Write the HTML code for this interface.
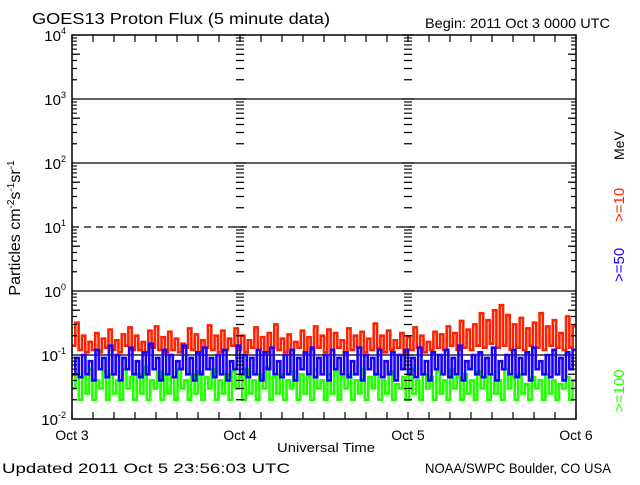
<!DOCTYPE html>
<html><head><meta charset="utf-8"><style>
body{margin:0;background:#fff;width:640px;height:480px;overflow:hidden;font-family:"Liberation Sans",sans-serif}
svg text{font-family:"Liberation Sans",sans-serif}
</style></head><body>
<svg id="chart" width="640" height="480" viewBox="0 0 640 480" xmlns="http://www.w3.org/2000/svg">
<text x="32" y="24" font-size="16" textLength="298" lengthAdjust="spacingAndGlyphs">GOES13 Proton Flux (5 minute data)</text>
<text x="425" y="28" font-size="14" textLength="185" lengthAdjust="spacingAndGlyphs">Begin: 2011 Oct 3 0000 UTC</text>
<text x="2" y="473" font-size="14" textLength="288" lengthAdjust="spacingAndGlyphs">Updated 2011 Oct  5 23:56:03 UTC</text>
<text x="425" y="473" font-size="14" textLength="186" lengthAdjust="spacingAndGlyphs">NOAA/SWPC Boulder, CO USA</text>
<text x="277" y="452" font-size="13" textLength="98" lengthAdjust="spacingAndGlyphs">Universal Time</text>
<text transform="translate(20,228) rotate(-90)" font-size="16" text-anchor="middle">Particles cm<tspan dy="-6" font-size="10">-2</tspan><tspan dy="6">s</tspan><tspan dy="-6" font-size="10">-1</tspan><tspan dy="6">sr</tspan><tspan dy="-6" font-size="10">-1</tspan></text>
<text transform="translate(624,160) rotate(-90)" font-size="14">MeV</text>
<text transform="translate(624,222) rotate(-90)" font-size="15" fill="#ff2200">&gt;=10</text>
<text transform="translate(624,282) rotate(-90)" font-size="15" fill="#1a00ff">&gt;=50</text>
<text transform="translate(624,412) rotate(-90)" font-size="15" fill="#22ff00">&gt;=100</text>
<g id="grid"></g><g id="series"></g><g id="axes"></g>
</svg>
<script>
const dayLabels=["Oct 3","Oct 4","Oct 5","Oct 6"];
const decadeExps=[-2,-1,0,1,2,3,4];
const red=[0.14,0.32,0.12,0.2,0.11,0.16,0.12,0.22,0.11,0.18,0.13,0.25,0.12,0.17,0.11,0.21,0.14,0.27,0.12,0.2,0.12,0.16,0.11,0.24,0.13,0.28,0.12,0.19,0.11,0.23,0.12,0.18,0.11,0.15,0.13,0.26,0.12,0.21,0.11,0.17,0.13,0.29,0.12,0.2,0.11,0.24,0.12,0.18,0.14,0.26,0.12,0.2,0.11,0.17,0.13,0.27,0.12,0.19,0.11,0.22,0.13,0.3,0.12,0.18,0.11,0.21,0.12,0.16,0.13,0.24,0.11,0.19,0.12,0.28,0.13,0.2,0.11,0.25,0.12,0.22,0.13,0.17,0.11,0.26,0.12,0.2,0.13,0.23,0.11,0.18,0.12,0.31,0.13,0.2,0.11,0.24,0.12,0.17,0.13,0.22,0.11,0.19,0.12,0.27,0.13,0.2,0.11,0.16,0.12,0.23,0.13,0.21,0.12,0.28,0.14,0.22,0.12,0.34,0.13,0.25,0.12,0.3,0.14,0.45,0.13,0.35,0.15,0.5,0.13,0.6,0.14,0.42,0.12,0.3,0.13,0.38,0.12,0.26,0.14,0.32,0.13,0.45,0.12,0.28,0.14,0.35,0.13,0.22,0.12,0.4,0.13,0.28];
const blue=[0.05,0.09,0.045,0.1,0.05,0.08,0.04,0.12,0.06,0.09,0.045,0.14,0.05,0.1,0.04,0.09,0.06,0.13,0.05,0.08,0.045,0.11,0.05,0.15,0.06,0.09,0.04,0.12,0.05,0.1,0.045,0.08,0.06,0.14,0.05,0.09,0.04,0.11,0.05,0.13,0.06,0.09,0.045,0.1,0.05,0.12,0.04,0.08,0.06,0.14,0.05,0.1,0.045,0.09,0.05,0.12,0.04,0.11,0.06,0.13,0.05,0.08,0.045,0.1,0.05,0.12,0.04,0.09,0.06,0.11,0.05,0.13,0.045,0.09,0.05,0.1,0.04,0.12,0.06,0.09,0.05,0.11,0.045,0.08,0.05,0.13,0.04,0.1,0.06,0.09,0.05,0.12,0.045,0.08,0.05,0.11,0.04,0.1,0.06,0.12,0.05,0.09,0.045,0.13,0.05,0.08,0.04,0.11,0.06,0.1,0.05,0.12,0.045,0.09,0.05,0.14,0.04,0.08,0.06,0.1,0.05,0.11,0.045,0.09,0.05,0.13,0.04,0.08,0.06,0.1,0.05,0.12,0.045,0.09,0.05,0.11,0.04,0.13,0.06,0.08,0.05,0.1,0.045,0.12,0.05,0.09,0.04,0.11,0.06,0.12];
const green=[0.03,0.05,0.02,0.045,0.025,0.06,0.02,0.04,0.03,0.055,0.02,0.05,0.025,0.04,0.02,0.06,0.03,0.045,0.02,0.05,0.025,0.065,0.02,0.04,0.03,0.055,0.02,0.05,0.025,0.045,0.02,0.06,0.03,0.04,0.02,0.05,0.025,0.055,0.02,0.045,0.03,0.06,0.02,0.04,0.025,0.05,0.02,0.055,0.03,0.045,0.02,0.06,0.025,0.04,0.02,0.05,0.03,0.065,0.02,0.045,0.025,0.05,0.02,0.04,0.03,0.055,0.02,0.05,0.025,0.045,0.02,0.06,0.03,0.04,0.02,0.05,0.025,0.055,0.02,0.045,0.03,0.05,0.02,0.04,0.025,0.06,0.02,0.045,0.03,0.05,0.02,0.04,0.025,0.055,0.02,0.035,0.03,0.045,0.02,0.06,0.025,0.04,0.02,0.05,0.03,0.045,0.02,0.055,0.025,0.04,0.02,0.06,0.03,0.045,0.02,0.05,0.025,0.04,0.02,0.055,0.03,0.045,0.02,0.05,0.025,0.04,0.02,0.06,0.03,0.045,0.02,0.05,0.025,0.035,0.02,0.045,0.03,0.04,0.02,0.05,0.025,0.04,0.02,0.035,0.03,0.045,0.02,0.04];
const L=72,R=576,T=35,B=419;
const x=d=>L+(R-L)*d/3;
const y=v=>B-(Math.log10(v)+2)/6*(B-T);
const NS="http://www.w3.org/2000/svg";
function mk(tag,attrs,parent){const e=document.createElementNS(NS,tag);for(const k in attrs)e.setAttribute(k,attrs[k]);parent.appendChild(e);return e;}
const grid=document.getElementById('grid'),axes=document.getElementById('axes'),ser=document.getElementById('series');
decadeExps.forEach(p=>{
  const yy=y(Math.pow(10,p));
  if(p>-2&&p<4){const ln=mk('line',{x1:L,x2:R,y1:yy,y2:yy,stroke:'#000','stroke-width':1.3},grid);
    
    
    if(p===1)ln.setAttribute('stroke-dasharray','7,5');}
  const t=mk('text',{x:L-6,y:yy+6,'font-size':15,'text-anchor':'end'},axes);
  
  
  t.innerHTML='10<tspan dy="-7" font-size="9">'+p+'</tspan>';
});
function drawSeries(arr,color,name){
  const n=arr.length;let d='';
  arr.forEach((v,i)=>{const x0=x(3*i/n),x1=x(3*(i+1)/n),yy=y(v);d+=(i?'L':'M')+x0+','+yy+'L'+x1+','+yy;});
  const p=mk('path',{d:d,fill:'none',stroke:color,'stroke-width':2.6},ser);
  
  
}
drawSeries(red,'#ff2200','series-ge10');
drawSeries(green,'#22ff00','series-ge100');
drawSeries(blue,'#1a00ff','series-ge50');
const fr=mk('rect',{x:L,y:T,width:R-L,height:B-T,fill:'none',stroke:'#000','stroke-width':1.5},axes);


let tk='';
for(let i=0;i<=24;i++){const xx=x(i/8);tk+=`M${xx},${B}v-7M${xx},${T}v7`;}
[0,1,2,3].forEach(dd=>{const xx=x(dd);
  for(let p=-2;p<4;p++)for(let m=2;m<=9;m++){const yy=y(m*Math.pow(10,p));const len=(m===5)?8:5;
    if(dd===0)tk+=`M${xx},${yy}h${len}`;else if(dd===3)tk+=`M${xx},${yy}h-${len}`;else tk+=`M${xx-4},${yy}h8`;}
  if(dd===1||dd===2)for(let p=-2;p<=4;p++){const yy=y(Math.pow(10,p));tk+=`M${xx-6},${yy}h12`;}
});
const tp=mk('path',{d:tk,stroke:'#000','stroke-width':1.2,fill:'none'},axes);


dayLabels.forEach((lab,i)=>{const t=mk('text',{x:x(i),y:440,'font-size':14,'text-anchor':'middle'},axes);
  
  
  t.textContent=lab;});
</script>
</body></html>
